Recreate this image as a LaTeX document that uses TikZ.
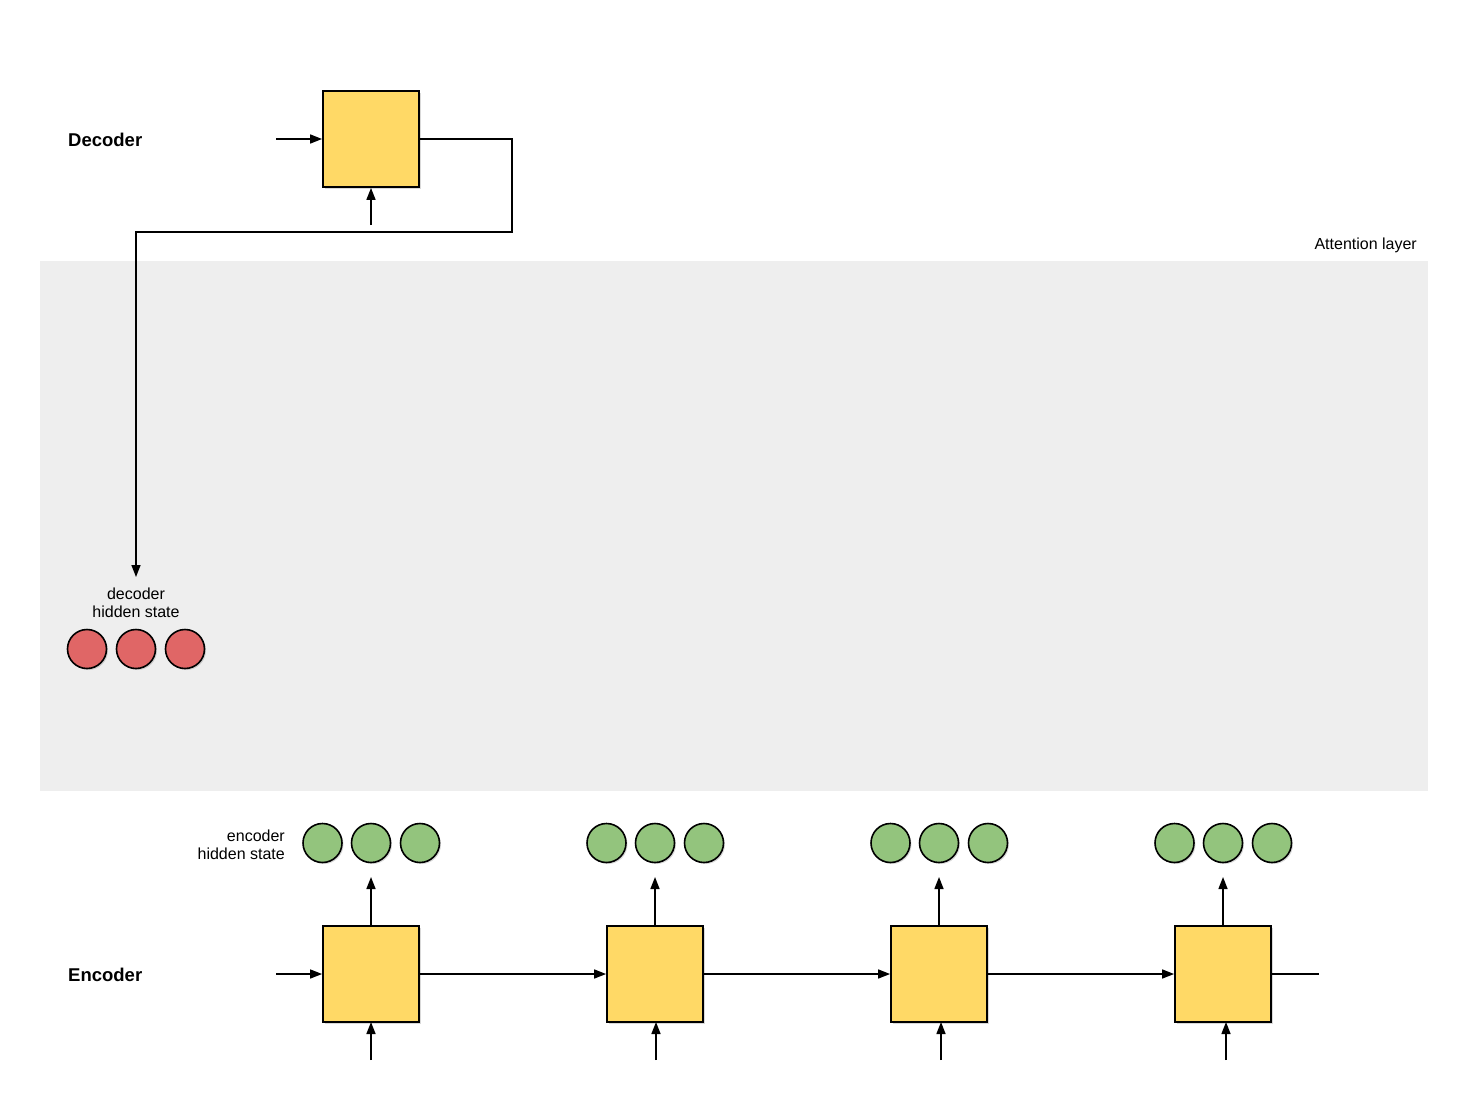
\documentclass[tikz,border=0pt]{standalone}
\usepackage{fontspec}
\setmainfont{Liberation Sans}
\usetikzlibrary{arrows.meta,shadows}
\definecolor{cellyellow}{HTML}{FFD966}
\definecolor{hidgreen}{HTML}{93C47D}
\definecolor{hidred}{HTML}{E06666}
\definecolor{attgray}{HTML}{EEEEEE}
\begin{document}
\begin{tikzpicture}[x=1pt,y=-1pt,
  cell/.style={draw=black,line width=1.8pt,fill=cellyellow,minimum size=96pt,inner sep=0pt,
    drop shadow={opacity=0.3,shadow xshift=2pt,shadow yshift=-2pt}},
  hid/.style={circle,draw=black,line width=1.6pt,minimum size=39pt,inner sep=0pt,
    drop shadow={opacity=0.3,shadow xshift=1.5pt,shadow yshift=-1.5pt}},
  encstate/.style={hid,fill=hidgreen},
  decstate/.style={hid,fill=hidred},
  conn/.style={line width=1.5pt},
  arr/.style={conn,-{Triangle[length=12pt,width=9pt]}},
  lbl/.style={font=\fontsize{16}{18.5}\selectfont,align=center,inner sep=0pt},
  title/.style={font=\fontsize{18.5}{22}\selectfont\bfseries,inner sep=0pt}
]
\useasboundingbox (0,0) rectangle (1463,1110);
% attention layer background
\node[fill=attgray,minimum width=1388pt,minimum height=530pt,inner sep=0pt] (att) at (733.5,525.5) {};
\node[lbl,anchor=east] (attlbl) at (1417,245) {Attention layer};

% decoder
\node[title,anchor=west] (declbl) at (68,140) {Decoder};
\node[cell] (dec) at (371,139) {};
\coordinate (decin) at (276,139);
\coordinate (decbot) at (371,225);
\draw[arr] (decin) -- (dec.west);
\draw[arr] (decbot) -- (dec.south);
\coordinate (c1) at (512,139);
\coordinate (c2) at (512,232);
\coordinate (c3) at (136,232);
\coordinate (dectip) at (136,577);
\draw[arr] (dec.east) -- (c1) -- (c2) -- (c3) -- (dectip);

% decoder hidden state
\node[lbl] (dhlbl) at (136,603) {decoder\\hidden state};
\node[decstate] (d1) at (87,649) {};
\node[decstate] (d2) at (136,649) {};
\node[decstate] (d3) at (185,649) {};

% encoder
\node[title,anchor=west] (enclbl) at (68,975) {Encoder};
\node[lbl,align=right,anchor=east] (ehlbl) at (285,845) {encoder\\hidden state};

\foreach \i/\x/\bx in {1/371/371,2/655/656,3/939/941,4/1223/1226}{
  \node[cell] (e\i) at (\x,974) {};
  \node[encstate] (h\i a) at (\x-48.5,843) {};
  \node[encstate] (h\i b) at (\x,843) {};
  \node[encstate] (h\i c) at (\x+49,843) {};
  \coordinate (up\i) at (\x,877);
  \draw[arr] (e\i.north) -- (up\i);
  \coordinate (in\i) at (\bx,1060);
  \draw[arr] (in\i) -- (\bx,1022);
}
\coordinate (encin) at (276,974);
\draw[arr] (encin) -- (e1.west);
\draw[arr] (e1.east) -- (e2.west);
\draw[arr] (e2.east) -- (e3.west);
\draw[arr] (e3.east) -- (e4.west);
\coordinate (encout) at (1319,974);
\draw[conn] (e4.east) -- (encout);
\end{tikzpicture}
\end{document}
